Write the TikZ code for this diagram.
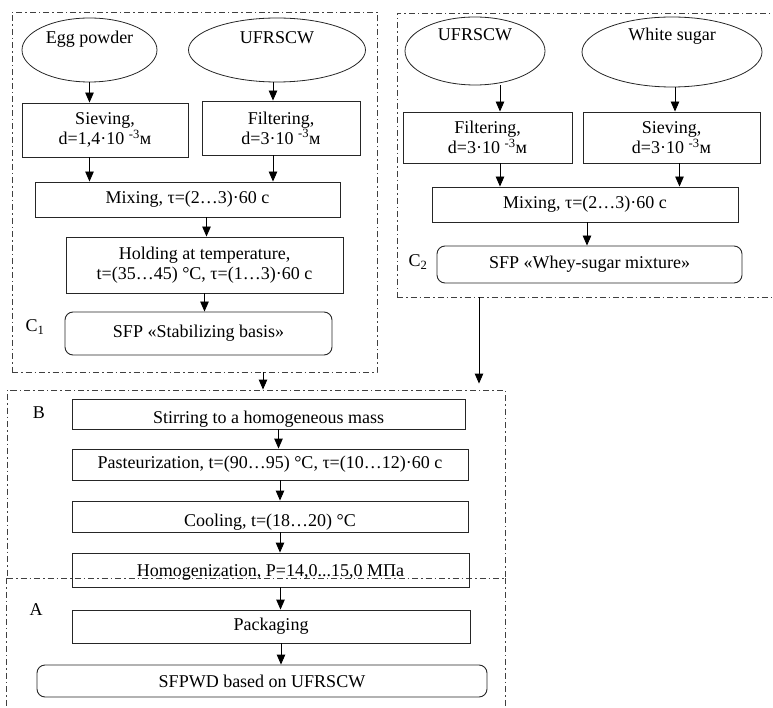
\documentclass[tikz,border=0pt]{standalone}
\usepackage{fontspec}
\setmainfont{Liberation Serif}
\usetikzlibrary{shapes.geometric,arrows.meta}

\tikzset{
	stage/.style={draw=black!85, line width=0.9pt, align=center, inner sep=2pt},
	product/.style={stage, rounded corners=8pt},
	source/.style={draw=black!85, line width=0.8pt, ellipse, inner sep=0pt},
	zone/.style={draw=black!75, line width=0.9pt, dash pattern=on 6pt off 3pt on 1.5pt off 3pt, inner sep=0pt},
	flow/.style={line width=0.9pt, -{Triangle[length=10pt,width=8.5pt]}},
}

\begin{document}
\begin{tikzpicture}[x=1pt, y=-1pt, font=\fontsize{18}{20}\selectfont]
		\useasboundingbox (0,0) rectangle (773,708);

		% zones
		\node[zone, minimum width=365, minimum height=360] (zoneC1) at (194.5,192) {};
		\node[zone, minimum width=400, minimum height=284] (zoneC2) at (597,155) {};
		\node[zone, minimum width=498, minimum height=188] (zoneB) at (256,484) {};
		\draw[zone] (zoneB.south west) -- ++(0,150) (zoneB.south east) -- ++(0,150);

		\node (labC1) at (35,327) {C\textsubscript{1}};
		\node (labC2) at (418,262) {C\textsubscript{2}};
		\node (labB) at (39,413) {B};
		\node (labA) at (36,610) {A};

		% stabilizing basis
		\node[source, minimum width=135, minimum height=64] (egg) at (89.5,50) {\raisebox{11pt}[\height][\depth]{Egg powder}};
		\node[source, minimum width=177, minimum height=64] (wheyA) at (277,50) {\raisebox{12pt}[\height][\depth]{UFRSCW}};
		\node[stage, minimum width=166, minimum height=54] (sieveA) at (105,130) {Sieving,\\ d=1,4·10 \textsuperscript{-3}м};
		\node[stage, minimum width=158, minimum height=54] (filterA) at (281,128) {Filtering,\\ d=3·10 \textsuperscript{-3}м};
		\node[stage, minimum width=305, minimum height=35] (mixA) at (187.5,199.5) {Mixing, τ=(2…3)·60 c};
		\node[stage, minimum width=277, minimum height=56] (hold) at (204.5,265) {Holding at temperature,\\ t=(35…45) °C, τ=(1…3)·60 c};
		\node[product, minimum width=267, minimum height=43] (basis) at (198.5,333.5) {SFP «Stabilizing basis»};

		\draw[flow] (egg.south) -- (egg.south |- sieveA.north);
		\draw[flow] ([xshift=-4pt]wheyA.south) -- ([xshift=-4pt]wheyA.south |- filterA.north);
		\draw[flow] (egg.south |- sieveA.south) -- (egg.south |- mixA.north);
		\draw[flow] ([xshift=-4pt]wheyA.south |- filterA.south) -- ([xshift=-4pt]wheyA.south |- mixA.north);
		\draw[flow] ([xshift=2pt]hold.north |- mixA.south) -- ([xshift=2pt]hold.north);
		\draw[flow] (hold.south) -- (hold.south |- basis.north);

		% whey-sugar mixture
		\node[source, minimum width=140, minimum height=68] (wheyB) at (475,51) {\raisebox{16pt}[\height][\depth]{UFRSCW}};
		\node[source, minimum width=180, minimum height=70] (sugar) at (672,52) {\raisebox{16pt}[\height][\depth]{White sugar}};
		\node[stage, minimum width=169, minimum height=51] (filterB) at (487.5,137.5) {Filtering,\\ d=3·10 \textsuperscript{-3}м};
		\node[stage, minimum width=177, minimum height=51] (sieveB) at (671.5,137.5) {Sieving,\\ d=3·10 \textsuperscript{-3}м};
		\node[stage, minimum width=306, minimum height=35] (mixB) at (585,204.5) {Mixing, τ=(2…3)·60 c};
		\node[product, minimum width=305, minimum height=37] (mixture) at (589.5,264.5) {SFP «Whey-sugar mixture»};

		\draw[flow] ([xshift=25pt]wheyB.south) -- ([xshift=25pt]wheyB.south |- filterB.north);
		\draw[flow] ([xshift=3pt]sugar.south) -- ([xshift=3pt]sugar.south |- sieveB.north);
		\draw[flow] ([xshift=25pt]wheyB.south |- filterB.south) -- ([xshift=25pt]wheyB.south |- mixB.north);
		\draw[flow] ([xshift=8pt]sieveB.south) -- ([xshift=8pt]sieveB.south |- mixB.north);
		\draw[flow] ([xshift=2pt]mixB.south) -- ([xshift=2pt]mixB.south |- mixture.north);

		% into B
		\draw[flow] ([xshift=68.5pt]zoneC1.south) -- ([xshift=68.5pt]zoneC1.south |- zoneB.north);
		\draw[flow] ([xshift=-118pt]zoneC2.south) -- ([xshift=-118pt,yshift=6pt]zoneC2.south |- zoneB.north);

		% B and A
		\node[stage, minimum width=393, minimum height=30] (stir) at (268.5,414) {\raisebox{-5pt}[\height][\depth]{Stirring to a homogeneous mass}};
		\node[stage, minimum width=396, minimum height=31] (past) at (270,464.5) {Pasteurization, t=(90…95) °C, τ=(10…12)·60 c};
		\node[stage, minimum width=396, minimum height=31] (cool) at (270,516.5) {\raisebox{-6pt}[\height][\depth]{Cooling, t=(18…20) °C}};
		\node[stage, minimum width=397, minimum height=34] (homo) at (270.5,570) {\raisebox{-2pt}[\height][\depth]{Homogenization, P=14,0...15,0 МПа}};
		\node[stage, minimum width=398, minimum height=33] (pack) at (271,626.5) {Packaging};
		\node[product, minimum width=450, minimum height=32] (dessert) at (262,681) {SFPWD based on UFRSCW};

		\foreach \a/\b in {stir/past,past/cool,cool/homo,homo/pack,pack/dessert}
			\draw[flow] ([xshift=10pt]\a.south) -- ([xshift=10pt]\a.south |- \b.north);
	\end{tikzpicture}
\end{document}
